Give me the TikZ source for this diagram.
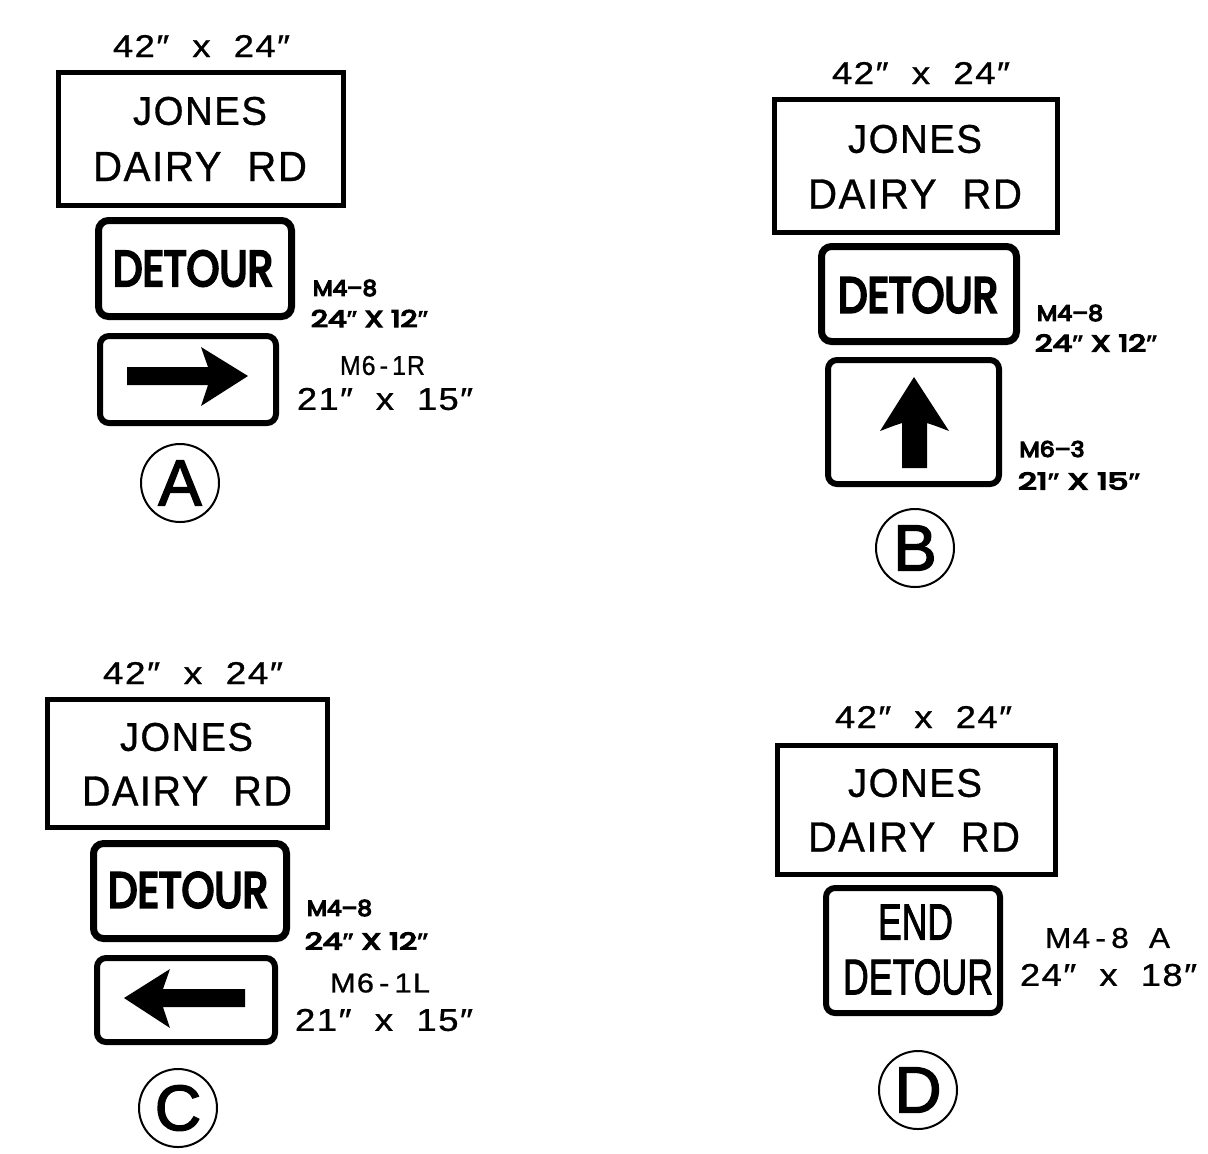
\documentclass[tikz,border=0pt]{standalone}
\usepackage{fontspec}
\usepackage{graphicx}
\usetikzlibrary{fit}
\setmainfont{Liberation Sans}
\newfontfamily\hw{Liberation Sans}[LetterSpace=4, FakeBold=0.8]
\newfontfamily\hwc{Liberation Sans}[FakeBold=2]
\newfontfamily\fut{Poppins}[FakeBold=5.5]
\newfontfamily\qf{Liberation Sans}[FakeBold=2]
\newlength\px \setlength\px{0.5pt}
\newcommand\fitbox[3]{\resizebox{#1\px}{#2\px}{#3}}
\newcommand\fith[2]{\resizebox{!}{#1\px}{#2}}
\newcommand\q{{\qf ″}}
\tikzset{
  t/.style={inner sep=0pt, outer sep=0pt},
  plain/.style={draw, line width=2.5pt, inner sep=0pt},
  rsign/.style={draw, line width=3.5pt, rounded corners=5pt, inner sep=0pt},
  asign/.style={draw, line width=3pt, rounded corners=4.5pt, inner sep=0pt},
  circ/.style={draw, circle, line width=1pt, minimum size=39pt, inner sep=0pt},
}
\begin{document}
\begin{tikzpicture}[x=0.5pt, y=-0.5pt]
\useasboundingbox[fill=white] (0,0) rectangle (1208,1153);

% ---------------- Panel A ----------------
\node[t] (szA) at (201.5,46) {\fitbox{177}{22}{\hw 42″\ \ x\ \ 24″}};
\node[plain, fit={(58.5,72.5) (343.5,205.5)}] (jonesA) {};
\node[t] (j1A) at (200,111) {\fitbox{134}{28}{\hw JONES}};
\node[t] (j2A) at (200,166.5) {\fitbox{214}{29}{\hw DAIRY\ \ RD}};
\node[rsign, fit={(98.5,220.5) (291.5,316.5)}] (detA) {};
\node[t] (dA) at (193,268.5) {\fitbox{160}{35}{\fut DETOUR}};
\node[t] (m48A) at (345,288) {\fitbox{64}{16}{\fut M4–8}};
\node[t] (s48A) at (369.5,318.5) {\fitbox{117}{17}{\fut 24\q\ X 12\q}};
\node[asign, fit={(100,336) (276,423)}] (arrA) {};
\fill (127,367) -- (208,367) .. controls (205,357) .. (201,347) -- (248,376) -- (201,406) .. controls (205,395) .. (208,385) -- (127,385) -- cycle;
\node[t] (m61A) at (382.5,365.5) {\fitbox{85}{19}{\hw M6\,-\,1R}};
\node[t] (s61A) at (385,399) {\fitbox{176}{22}{\hw 21″\ \ x\ \ 15″}};
\node[circ] (cA) at (180,483) {\fith{45}{\hwc A}};

% ---------------- Panel B ----------------
\node[t] (szB) at (921,73) {\fitbox{178}{22}{\hw 42″\ \ x\ \ 24″}};
\node[plain, fit={(774.5,99.5) (1057.5,232.5)}] (jonesB) {};
\node[t] (j1B) at (915,139) {\fitbox{134}{28}{\hw JONES}};
\node[t] (j2B) at (915,194) {\fitbox{214}{29}{\hw DAIRY\ \ RD}};
\node[rsign, fit={(821.5,246.5) (1016.5,341.5)}] (detB) {};
\node[t] (dB) at (918,295) {\fitbox{160}{35}{\fut DETOUR}};
\node[t] (m48B) at (1070,313) {\fitbox{66}{16}{\fut M4–8}};
\node[t] (s48B) at (1096,343) {\fitbox{122}{17}{\fut 24\q\ X 12\q}};
\node[asign, fit={(828,360) (999,484)}] (arrB) {};
\fill (902,468) -- (902,423) .. controls (893,426) .. (880,431) -- (914,377) -- (949,431) .. controls (936,426) .. (927,423) -- (927,468) -- cycle;
\node[t] (m63B) at (1052,449) {\fitbox{65}{16}{\fut M6–3}};
\node[t] (s63B) at (1079,481) {\fitbox{122}{17}{\fut 21\q\ X 15\q}};
\node[circ] (cB) at (915,548) {\fith{45}{\hwc B}};

% ---------------- Panel C ----------------
\node[t] (szC) at (193,673) {\fitbox{180}{22}{\hw 42″\ \ x\ \ 24″}};
\node[plain, fit={(47.5,699.5) (327.5,827.5)}] (jonesC) {};
\node[t] (j1C) at (186.5,737) {\fitbox{133}{28}{\hw JONES}};
\node[t] (j2C) at (187,791) {\fitbox{210}{29}{\hw DAIRY\ \ RD}};
\node[rsign, fit={(93.5,843.5) (286.5,938.5)}] (detC) {};
\node[t] (dC) at (188,890) {\fitbox{160}{35}{\fut DETOUR}};
\node[t] (m48C) at (339.5,908) {\fitbox{65}{16}{\fut M4–8}};
\node[t] (s48C) at (366.5,941) {\fitbox{123}{17}{\fut 24\q\ X 12\q}};
\node[asign, fit={(97,958) (275,1042)}] (arrC) {};
\fill (245,989) -- (163,989) .. controls (166,979) .. (170,969) -- (124,998) -- (170,1028) .. controls (166,1017) .. (163,1007) -- (245,1007) -- cycle;
\node[t] (m61C) at (380,983) {\fitbox{100}{19}{\hw M6\,-\,1L}};
\node[t] (s61C) at (384,1020) {\fitbox{178}{22}{\hw 21″\ \ x\ \ 15″}};
\node[circ] (cC) at (178,1108) {\fith{45}{\hwc C}};

% ---------------- Panel D ----------------
\node[t] (szD) at (923.5,717) {\fitbox{177}{22}{\hw 42″\ \ x\ \ 24″}};
\node[plain, fit={(777.5,745.5) (1055.5,874.5)}] (jonesD) {};
\node[t] (j1D) at (915,783) {\fitbox{134}{28}{\hw JONES}};
\node[t] (j2D) at (914,837) {\fitbox{212}{29}{\hw DAIRY\ \ RD}};
\node[asign, fit={(826,888) (1000,1013)}] (endD) {};
\node[t] (e1D) at (915.5,922) {\fitbox{75}{35}{\hwc END}};
\node[t] (e2D) at (918,977) {\fitbox{150}{35}{\hwc DETOUR}};
\node[t] (m48aD) at (1107.5,938) {\fitbox{125}{20}{\hw M4\,-\,8\ \ A}};
\node[t] (s48D) at (1108.5,975) {\fitbox{177}{22}{\hw 24″\ \ x\ \ 18″}};
\node[circ] (cD) at (918,1090) {\fith{45}{\hwc D}};
\end{tikzpicture}
\end{document}
